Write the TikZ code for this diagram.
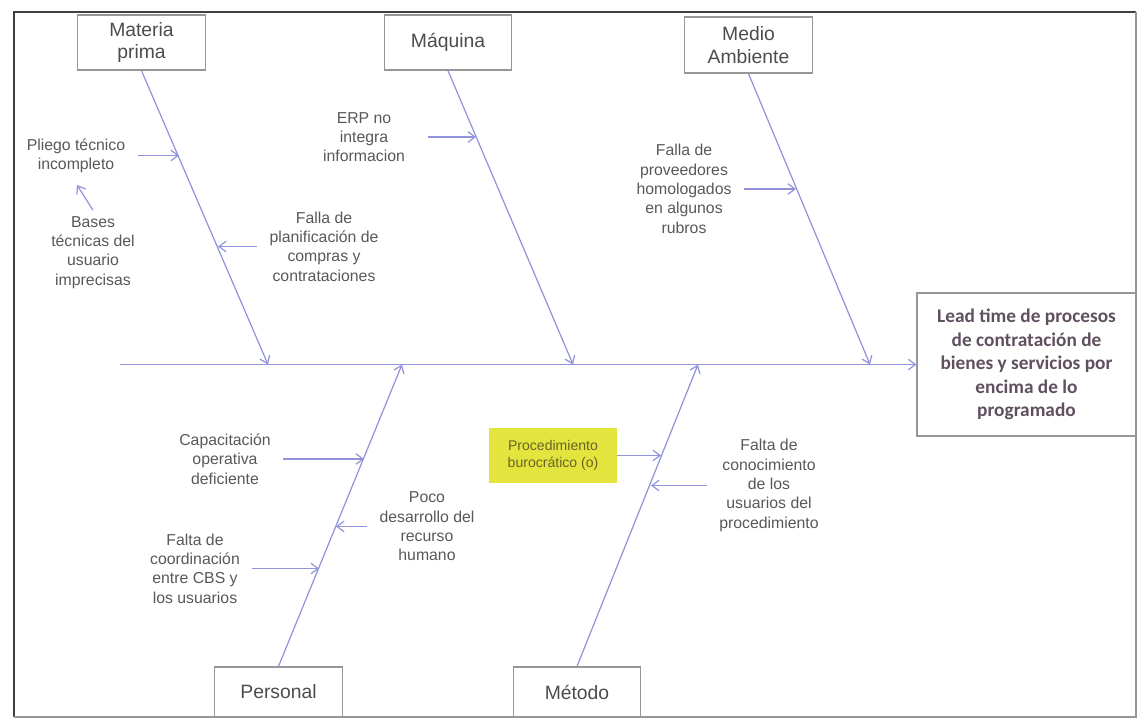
\documentclass[tikz,border=0pt]{standalone}
\usepackage{fontspec}
\setmainfont{Liberation Sans}
\newfontfamily\calibri{Carlito}
\usetikzlibrary{arrows.meta}
\definecolor{espina}{RGB}{145,148,218}
\definecolor{gristxt}{RGB}{88,88,88}
\definecolor{marco}{RGB}{150,150,150}
\definecolor{amarillo}{RGB}{228,228,62}
\definecolor{olivo}{RGB}{105,100,40}
\definecolor{efecto}{RGB}{95,80,95}
\begin{document}
\begin{tikzpicture}[x=0.02cm,y=-0.02cm,>={Straight Barb[length=4pt,width=6pt]},
  causa/.style={draw=marco,line width=0.8pt,minimum width=2.55cm,minimum height=1.1cm,align=center,text=black!70,font=\fontsize{11}{13}\selectfont},
  sub/.style={align=center,text=gristxt,inner xsep=7pt,font=\fontsize{9}{11}\selectfont},
  hueso/.style={draw=espina,line width=0.7pt}]
\useasboundingbox (0,0) rectangle (1138,719);
\draw[black!75,line width=1.3pt] (14,717) -- (14,12) -- (1136,12);
\draw[marco,line width=0.6pt] (1136,12) -- (1136,717) -- (14,717);
\node[causa] (mp) at (141.5,42.5) {Materia\\prima};
\node[causa] (maq) at (448,42.5) {Máquina};
\node[causa,minimum height=1.12cm] (med) at (748.5,45) {Medio\\Ambiente};
\node[causa,minimum height=1cm] (per) at (278.5,692) {Personal};
\node[causa,minimum height=1cm] (met) at (577,692) {Método};
\node[draw=marco,line width=0.8pt,minimum width=4.38cm,minimum height=2.86cm,align=center,text=efecto,font=\calibri\bfseries\fontsize{11}{13.4}\selectfont] (ef) at (1026.5,364.5) {Lead time de procesos\\de contratación de\\bienes y servicios por\\encima de lo\\programado};
\coordinate (cola) at (120,364.5);
\coordinate (pm) at (268,364.5);
\coordinate (pq) at (573,364.5);
\coordinate (pa) at (870,364.5);
\coordinate (pp) at (402,364.5);
\coordinate (pt) at (698,364.5);
\draw[hueso,->] (cola) -- (ef);
\draw[hueso,->] (mp.south) -- (pm);
\draw[hueso,->] (maq.south) -- (pq);
\draw[hueso,->] (med.south) -- (pa);
\draw[hueso,->] (per.north) -- (pp);
\draw[hueso,->] (met.north) -- (pt);
\node[sub] (pliego) at (76,155.5) {Pliego técnico\\incompleto};
\node[sub] (bases) at (93,252.5) {Bases\\técnicas del\\usuario\\imprecisas};
\node[sub] (plan) at (324,246.5) {Falla de\\planificación de\\compras y\\contrataciones};
\node[sub] (erp) at (364,137) {ERP no\\integra\\informacion};
\node[sub] (prov) at (684,189) {Falla de\\proveedores\\homologados\\en algunos\\rubros};
\node[sub] (capac) at (225,459) {Capacitación\\operativa\\deficiente};
\node[sub] (poco) at (427,526.5) {Poco\\desarrollo del\\recurso\\humano};
\node[sub] (coord) at (195,568.5) {Falta de\\coordinación\\entre CBS y\\los usuarios};
\node[fill=amarillo,minimum width=2.56cm,minimum height=1.1cm,align=center,text=olivo,font=\fontsize{8}{10}\selectfont] (proc) at (553,455.5) {Procedimiento\\burocrático (o)};
\node[sub] (conoc) at (769,485.5) {Falta de\\conocimiento\\de los\\usuarios del\\procedimiento};
\coordinate (c0) at (77,185);
\coordinate (c1) at (179,155.5);
\coordinate (c2) at (218,246.5);
\coordinate (c3) at (476,137);
\coordinate (c4) at (796,189);
\coordinate (c5) at (364,459);
\coordinate (c6) at (336,526.5);
\coordinate (c7) at (319,568.5);
\coordinate (c8) at (661,455.5);
\coordinate (c9) at (651,485.5);
\draw[hueso,->] (pliego) -- (c1);
\draw[hueso,->] (bases.north) -- (c0);
\draw[hueso,->] (plan) -- (c2);
\draw[hueso,->,shorten <=6pt] (erp) -- (c3);
\draw[hueso,->] (prov) -- (c4);
\draw[hueso,->] (capac) -- (c5);
\draw[hueso,->] (poco) -- (c6);
\draw[hueso,->] (coord) -- (c7);
\draw[hueso,->] (proc) -- (c8);
\draw[hueso,->] (conoc) -- (c9);
\end{tikzpicture}
\end{document}
